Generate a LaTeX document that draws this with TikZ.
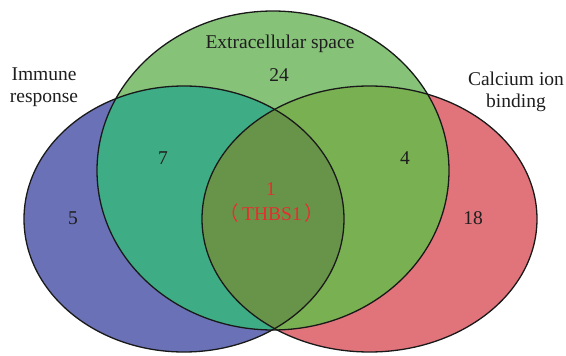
\documentclass[tikz,border=0pt]{standalone}
\usepackage{fontspec}
\setmainfont{Liberation Serif}
\newfontfamily\cjk{Noto Sans CJK SC}
\definecolor{cblue}{RGB}{106,113,182}
\definecolor{cred}{RGB}{225,115,123}
\definecolor{cgreen}{RGB}{135,194,121}
\definecolor{cteal}{RGB}{62,172,132}
\definecolor{colive}{RGB}{121,176,82}
\definecolor{ccenter}{RGB}{104,148,74}
\definecolor{cline}{RGB}{25,25,25}
\definecolor{ctext}{RGB}{30,30,30}
\definecolor{cthbs}{RGB}{232,45,45}
\tikzset{
  outline/.style={draw=cline, line width=1.3pt},
  lbl/.style={font=\fontsize{19.5}{22}\selectfont, text=ctext, align=center, inner sep=0pt},
  num/.style={font=\fontsize{19.5}{22}\selectfont, text=ctext, inner sep=0pt},
}
\begin{document}
\begin{tikzpicture}[x=1pt,y=-1pt]
\useasboundingbox (0,0) rectangle (566,356);
\def\blueE{(184,219) ellipse [x radius=160pt, y radius=133pt]}
\def\redE{(369.5,219) ellipse [x radius=167.5pt, y radius=133pt]}
\def\greenE{(273,170.5) ellipse [x radius=176pt, y radius=159.5pt]}
% base fills
\fill[cblue] \blueE;
\fill[cred] \redE;
\fill[cgreen] \greenE;
% overlaps
\begin{scope}
  \clip \greenE;
  \fill[cteal] \blueE;
  \fill[colive] \redE;
\end{scope}
\begin{scope}
  \clip \blueE;
  \fill[ccenter] \redE;
\end{scope}
% outlines
\draw[outline] \blueE;
\draw[outline] \redE;
\draw[outline] \greenE;
% labels
\node[lbl] (lext) at (280,44) {Extracellular space};
\node[lbl] (limm) at (44,87) {Immune\\response};
\node[lbl] (lcal) at (516,92) {Calcium ion\\binding};
\node[num] (n24) at (279,75) {24};
\node[num] (n7) at (163,158) {7};
\node[num] (n4) at (405,158) {4};
\node[num] (n5) at (73,218) {5};
\node[num] (n18) at (473,218) {18};
\node[num, text=cthbs] (n1) at (271,189) {1};
\node[num, text=cthbs] (nthbs) at (272,213) {{\cjk （}\hspace{3pt}THBS1\hspace{3pt}{\cjk ）}};
\end{tikzpicture}
\end{document}
